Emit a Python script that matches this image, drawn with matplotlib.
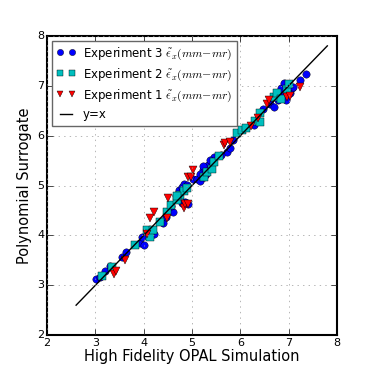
import matplotlib
matplotlib.use("Agg")
import matplotlib.pyplot as plt

plt.style.use('classic')
plt.rcParams['mathtext.fontset'] = 'cm'
plt.rcParams['font.family'] = ['DejaVu Sans']

# Experiment 3 (blue circles)
exp3_x = [3.02, 3.09, 3.19, 3.30, 3.54, 3.64, 3.93, 3.97, 4.00, 4.14, 4.22, 4.40, 4.47,
          4.61, 4.57, 4.66, 4.74, 4.79, 4.84, 4.90, 4.79, 4.85, 4.91, 5.02, 5.10, 5.17,
          5.23, 5.28, 5.34, 5.45, 5.38, 5.72, 5.78, 5.85, 6.28, 6.47, 6.62, 6.69, 6.77,
          6.83, 6.84, 6.91, 6.95, 7.02, 7.07, 7.10, 7.23, 7.36, 5.16, 5.23, 5.59, 5.24]
exp3_y = [3.12, 3.17, 3.29, 3.38, 3.57, 3.67, 3.84, 3.97, 3.81, 4.01, 4.03, 4.24, 4.37,
          4.47, 4.58, 4.81, 4.91, 4.98, 5.04, 5.01, 4.64, 4.66, 4.63, 5.13, 5.14, 5.10,
          5.31, 5.24, 5.41, 5.58, 5.51, 5.68, 5.75, 5.91, 6.21, 6.54, 6.64, 6.58, 6.72,
          6.85, 6.95, 7.05, 6.72, 6.85, 6.95, 6.97, 7.12, 7.24, 5.24, 5.39, 5.61, 5.17]

# Experiment 2 (cyan squares)
exp2_x = [3.14, 3.34, 3.81, 4.07, 4.12, 4.19, 4.33, 4.48, 4.57, 4.68, 4.76, 4.83, 4.90,
          5.24, 5.31, 5.41, 5.45, 5.56, 5.93, 6.03, 6.12, 6.31, 6.41, 6.40, 6.69, 6.76,
          6.97, 7.00, 6.84, 4.68]
exp2_y = [3.18, 3.36, 3.81, 4.11, 3.97, 4.11, 4.27, 4.47, 4.61, 4.71, 4.81, 4.88, 4.94,
          5.18, 5.28, 5.34, 5.48, 5.59, 6.05, 6.11, 6.15, 6.30, 6.28, 6.45, 6.78, 6.86,
          6.93, 7.03, 6.74, 4.78]

# Experiment 1 (red triangles)
exp1_x = [3.39, 3.43, 3.62, 4.07, 4.12, 4.22, 4.48, 4.50, 4.83, 4.86, 4.91, 4.92, 4.97,
          5.02, 5.66, 5.69, 5.78, 6.22, 6.36, 6.55, 6.60, 6.97, 7.02, 7.23]
exp1_y = [3.22, 3.29, 3.50, 4.03, 4.34, 4.47, 4.34, 4.74, 4.54, 4.63, 4.63, 5.18, 5.18,
          5.31, 5.81, 5.86, 5.88, 6.19, 6.36, 6.64, 6.72, 6.78, 6.80, 6.98]

line_x = [2.6, 7.8]

label = r'$\tilde{\epsilon}_x(mm{-}mr)$'

fig = plt.figure(figsize=(3.74, 3.74), dpi=100, facecolor='white')
ax = fig.add_axes([0.126, 0.104, 0.775, 0.80])
ax.set_facecolor('white')

ms = 5.3
ax.plot(exp3_x, exp3_y, 'bo', markersize=ms, markeredgewidth=0.3,
        label='Experiment 3 ' + label)
ax.plot(exp2_x, exp2_y, 'cs', markersize=ms, markeredgewidth=0.3,
        label='Experiment 2 ' + label)
ax.plot(exp1_x, exp1_y, 'rv', markersize=ms, markeredgewidth=0.3,
        label='Experiment 1 ' + label)
ax.plot(line_x, line_x, 'k-', linewidth=1, label='y=x')

ax.set_xlim(2, 8)
ax.set_ylim(2, 8)
ax.set_xticks([2, 3, 4, 5, 6, 7, 8])
ax.set_yticks([2, 3, 4, 5, 6, 7, 8])
ax.tick_params(labelsize=8, direction='in', pad=2)
ax.grid(True, linestyle=':', color='0.6')
for s in ax.spines.values():
    s.set_linewidth(1.5)

ax.set_xlabel('High Fidelity OPAL Simulation', fontsize=10.5, labelpad=1)
ax.set_ylabel('Polynomial Surrogate', fontsize=10.5, labelpad=4)

leg = ax.legend(loc='upper left', fontsize=8.5, numpoints=2, fancybox=False,
                borderaxespad=0.4, handlelength=1.6, handletextpad=0.6,
                labelspacing=0.4, borderpad=0.4, markerscale=0.85)
leg.get_frame().set_edgecolor('0.4')

fig.savefig('out.png', dpi=100, facecolor='white')
